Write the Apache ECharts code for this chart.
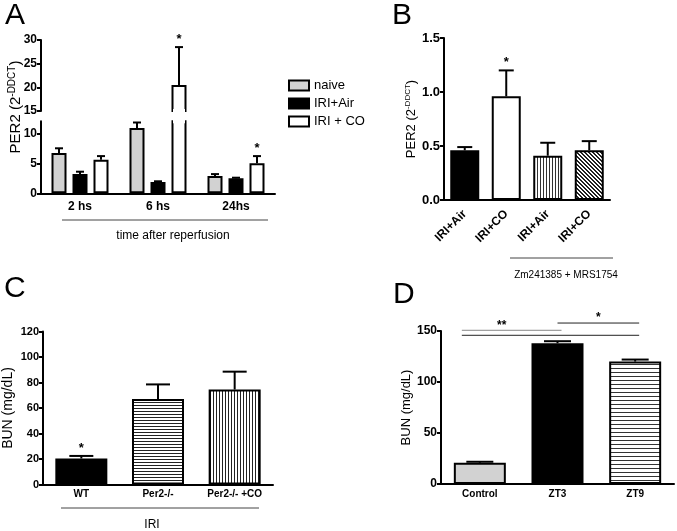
<!DOCTYPE html>
<html>
<head>
<meta charset="utf-8">
<script src="https://cdn.jsdelivr.net/npm/echarts@6/dist/echarts.min.js"></script>
<style>
  html, body { margin: 0; padding: 0; background: #fff; }
  #main { width: 677px; height: 531px; }
</style>
</head>
<body>
<div id="main"></div>
<script>
// ---- data ----
// A: PER2 expression after reperfusion
const aGroups = ['2 hs', '6 hs', '24hs'];
const aNaive = [6.7, 10.9, 2.9];
const aNaiveErr = [7.5, 11.8, 3.2];
const aAir = [3.2, 1.9, 2.5];
const aAirErr = [3.6, 2.0, 2.6];
const aCO = [5.6, 20.5, 5.0];
const aCOErr = [6.2, 28.5, 6.2];
const aCOStars = ['', '*', '*'];

// B: PER2 with/without Zm241385 + MRS1754
const bLabels = ['IRI+Air', 'IRI+CO', 'IRI+Air', 'IRI+CO'];
const bMeans = [0.46, 0.96, 0.41, 0.46];
const bErrTop = [0.49, 1.20, 0.53, 0.545];
const bStars = ['', '*', '', ''];

// C: BUN after IRI
const cLabels = ['WT', 'Per2-/-', 'Per2-/- +CO'];
const cMeans = [20.4, 67, 74.5];
const cErrTop = [22.4, 78.5, 88.5];
const cStars = ['*', '', ''];

// D: BUN by time of day
const dLabels = ['Control', 'ZT3', 'ZT9'];
const dMeans = [20.8, 138, 120];
const dErrTop = [21.8, 140, 122];
// [from, to, y, label]
const dBrackets = [[0, 1, 150.7, '**'], [0, 2, 145.8, ''], [1, 2, 157.8, '*']];

const FONT = "'Liberation Sans', Arial, sans-serif";
const GREY = '#d2d2d2';

function pattern(kind, size, fg) {
  const c = document.createElement('canvas');
  c.width = size; c.height = size;
  const g = c.getContext('2d');
  g.fillStyle = '#fff'; g.fillRect(0, 0, size, size);
  g.fillStyle = fg;
  if (kind === 'h') g.fillRect(0, 0, size, 1);
  else if (kind === 'v') g.fillRect(0, 0, 1, size);
  else {
    for (let i = 0; i < size; i++) {
      g.fillRect(i, i, 1, 1);
      g.fillRect((i + 1) % size, i, 1, 1);
    }
  }
  return { image: c, repeat: 'repeat' };
}

const barBorder = { borderColor: '#000', borderWidth: 2 };

// error bars (+ stars) as custom series; rows: [cat, top, hi, slot]
// lo/up: value range of the grid; openW > 0 hides the clipped edge of a broken bar
function errSeries(gi, rows, stars, slotOffset, capW, lo, up, openW) {
  return {
    type: 'custom',
    xAxisIndex: gi, yAxisIndex: gi,
    z: 5,
    data: rows,
    encode: { x: 0, y: 2 },
    renderItem: function (params, api) {
      const c = api.value(0), top = api.value(1), hi = api.value(2);
      if (top < lo) return null;
      const b = api.coord([c, top]);
      const x = b[0] + slotOffset(api.value(3));
      const kids = [];
      if (openW) {
        if (top > up) {
          const e = api.coord([c, up]);
          kids.push({ type: 'rect', shape: { x: x - openW / 2, y: e[1] - 2, width: openW, height: 4 }, style: { fill: '#fff' } });
        }
        if (isFinite(lo)) {
          const e2 = api.coord([c, lo]);
          kids.push({ type: 'rect', shape: { x: x - openW / 2, y: e2[1] - 2, width: openW, height: 4 }, style: { fill: '#fff' } });
        }
      }
      if (top <= up) {
        const t = api.coord([c, hi]);
        kids.push(
          { type: 'line', shape: { x1: x, y1: b[1], x2: x, y2: t[1] }, style: { stroke: '#000', lineWidth: 2 } },
          { type: 'line', shape: { x1: x - capW / 2, y1: t[1], x2: x + capW / 2, y2: t[1] }, style: { stroke: '#000', lineWidth: 2 } }
        );
        const s = stars[params.dataIndex];
        if (s) {
          kids.push({ type: 'text', x: x, y: t[1] - 1,
            style: { text: s, font: 'bold 13px ' + FONT, fill: '#000', align: 'center', verticalAlign: 'bottom' } });
        }
      }
      return { type: 'group', children: kids };
    }
  };
}

const aRows = [], aStars = [];
[[aNaive, aNaiveErr], [aAir, aAirErr], [aCO, aCOErr]].forEach(function (pair, s) {
  pair[0].forEach(function (v, c) {
    aRows.push([c, v, pair[1][c], s]);
    aStars.push(s === 2 ? aCOStars[c] : '');
  });
});
const aSlot = function (s) { return (s - 1) * 21; };
const noSlot = function () { return 0; };

function simpleRows(means, tops) {
  return means.map(function (v, i) { return [i, v, tops[i], 0]; });
}

const axisLine = { lineStyle: { color: '#000', width: 2 } };
const yTick = { length: 4, lineStyle: { color: '#000', width: 2 } };
const xTick = { alignWithLabel: true, length: 4, lineStyle: { color: '#000', width: 2 } };
function lab(size, extra) {
  return Object.assign({ color: '#000', fontWeight: 'bold', fontSize: size, fontFamily: FONT }, extra || {});
}

const chart = echarts.init(document.getElementById('main'));

const aBarSeries = [];
[0, 1].forEach(function (gi) {
  aBarSeries.push(
    { name: 'naive', type: 'bar', xAxisIndex: gi, yAxisIndex: gi, data: aNaive, barWidth: 15, barGap: '40%',
      itemStyle: Object.assign({ color: GREY }, barBorder) },
    { name: 'IRI+Air', type: 'bar', xAxisIndex: gi, yAxisIndex: gi, data: aAir, barWidth: 15, barGap: '40%',
      itemStyle: Object.assign({ color: '#000' }, barBorder) },
    { name: 'IRI + CO', type: 'bar', xAxisIndex: gi, yAxisIndex: gi, data: aCO, barWidth: 15, barGap: '40%',
      itemStyle: Object.assign({ color: '#fff' }, barBorder) }
  );
});

const bFills = ['#000', '#fff', pattern('v', 3, '#333'), pattern('d', 4, '#222')];
const cFills = ['#000', pattern('h', 3, '#222'), pattern('v', 3, '#222')];
const dFills = [GREY, '#000', pattern('h', 4, '#333')];

function styled(values, fills) {
  return values.map(function (v, i) {
    return { value: v, itemStyle: Object.assign({ color: fills[i] }, barBorder) };
  });
}

const rich = function (big, small) {
  return { t: { fontSize: big, fontFamily: FONT, color: '#000', lineHeight: big + 2 },
           s: { fontSize: small, fontFamily: FONT, color: '#000', verticalAlign: 'top', lineHeight: big + 2 } };
};

chart.setOption({
  animation: false,
  textStyle: { fontFamily: FONT },
  legend: {
    data: ['naive', 'IRI+Air', 'IRI + CO'],
    orient: 'vertical', left: 288, top: 79, padding: 0,
    icon: 'rect', itemWidth: 20, itemHeight: 10, itemGap: 5,
    selectedMode: false,
    textStyle: { fontSize: 13, color: '#000', fontFamily: FONT }
  },
  grid: [
    { left: 41, top: 121.3, width: 234, height: 72 },
    { left: 41, top: 40, width: 234, height: 71 },
    { left: 444, top: 38, width: 166, height: 162 },
    { left: 41, top: 331.5, width: 232, height: 153 },
    { left: 441, top: 331, width: 233, height: 153 }
  ],
  xAxis: [
    { gridIndex: 0, type: 'category', data: aGroups, axisLine: axisLine, axisTick: xTick, axisLabel: lab(12, { margin: 7 }) },
    { gridIndex: 1, type: 'category', data: aGroups, show: false },
    { gridIndex: 2, type: 'category', data: bLabels, axisLine: axisLine, axisTick: xTick, axisLabel: lab(12, { rotate: 45, margin: 12, interval: 0 }) },
    { gridIndex: 3, type: 'category', data: cLabels, axisLine: axisLine, axisTick: xTick, axisLabel: lab(10, { margin: 5, interval: 0 }) },
    { gridIndex: 4, type: 'category', data: dLabels, axisLine: axisLine, axisTick: xTick, axisLabel: lab(10, { margin: 5, interval: 0 }) }
  ],
  yAxis: [
    { gridIndex: 0, type: 'value', min: 0, max: 12, splitLine: { show: false }, axisLine: Object.assign({ show: true }, axisLine),
      axisTick: Object.assign({ show: true, customValues: [0, 5, 10] }, yTick), axisLabel: lab(12, { margin: 4, customValues: [0, 5, 10] }) },
    { gridIndex: 1, type: 'value', min: 15, max: 30, interval: 5, splitLine: { show: false }, axisLine: Object.assign({ show: true }, axisLine),
      axisTick: Object.assign({ show: true }, yTick), axisLabel: lab(12, { margin: 4 }) },
    { gridIndex: 2, type: 'value', min: 0, max: 1.5, interval: 0.5, splitLine: { show: false }, axisLine: Object.assign({ show: true }, axisLine),
      axisTick: Object.assign({ show: true }, yTick), axisLabel: lab(13, { margin: 4, formatter: function (v) { return v.toFixed(1); } }),
      name: '{t|PER2 (2}{s|-DDCT}{t|)}', nameLocation: 'middle', nameGap: 24, nameTextStyle: { rich: rich(13, 8) } },
    { gridIndex: 3, type: 'value', min: 0, max: 120, interval: 20, splitLine: { show: false }, axisLine: Object.assign({ show: true }, axisLine),
      axisTick: Object.assign({ show: true }, yTick), axisLabel: lab(11, { margin: 4 }),
      name: 'BUN (mg/dL)', nameLocation: 'middle', nameGap: 28, nameTextStyle: { fontSize: 14, color: '#000', fontFamily: FONT } },
    { gridIndex: 4, type: 'value', min: 0, max: 150, interval: 50, splitLine: { show: false }, axisLine: Object.assign({ show: true }, axisLine),
      axisTick: Object.assign({ show: true }, yTick), axisLabel: lab(12, { margin: 4 }),
      name: 'BUN (mg/dL)', nameLocation: 'middle', nameGap: 23, nameTextStyle: { fontSize: 13, color: '#000', fontFamily: FONT } }
  ],
  series: aBarSeries.concat([
    errSeries(0, aRows, aStars, aSlot, 8, -Infinity, 12, 12),
    errSeries(1, aRows, aStars, aSlot, 8, 15, Infinity, 12),
    { name: 'B', type: 'bar', xAxisIndex: 2, yAxisIndex: 2, barWidth: 29, data: styled(bMeans, bFills) },
    errSeries(2, simpleRows(bMeans, bErrTop), bStars, noSlot, 15, -Infinity, Infinity, 0),
    { name: 'C', type: 'bar', xAxisIndex: 3, yAxisIndex: 3, barWidth: 52, data: styled(cMeans, cFills) },
    errSeries(3, simpleRows(cMeans, cErrTop), cStars, noSlot, 24, -Infinity, Infinity, 0),
    { name: 'D', type: 'bar', xAxisIndex: 4, yAxisIndex: 4, barWidth: 52, data: styled(dMeans, dFills) },
    errSeries(4, simpleRows(dMeans, dErrTop), ['', '', ''], noSlot, 27, -Infinity, Infinity, 0),
    {
      type: 'custom', xAxisIndex: 4, yAxisIndex: 4, z: 6,
      data: dBrackets.map(function (b) { return [b[0], b[1], b[2]]; }),
      encode: { x: 0, y: 2 },
      renderItem: function (params, api) {
        const p0 = api.coord([api.value(0), api.value(2)]);
        const p1 = api.coord([api.value(1), api.value(2)]);
        const x0 = p0[0] - (api.value(0) === 0 ? 18 : 0);
        const x1 = p1[0] + 4;
        const kids = [{ type: 'line', shape: { x1: x0, y1: p0[1], x2: x1, y2: p0[1] },
          style: { stroke: params.dataIndex === 0 ? '#888' : '#222', lineWidth: 1 } }];
        const txt = dBrackets[params.dataIndex][3];
        if (txt) {
          kids.push({ type: 'text', x: (x0 + x1) / 2 - (txt.length - 1) * 10, y: p0[1] + 1,
            style: { text: txt, font: 'bold 12px ' + FONT, fill: '#000', align: 'center', verticalAlign: 'bottom' } });
        }
        return { type: 'group', children: kids };
      }
    }
  ]),
  graphic: [
    { type: 'text', left: 5, top: 1, style: { text: 'A', font: '30px ' + FONT, fill: '#000' } },
    { type: 'text', left: 392, top: 1, style: { text: 'B', font: '30px ' + FONT, fill: '#000' } },
    { type: 'text', left: 4, top: 274, style: { text: 'C', font: '30px ' + FONT, fill: '#000' } },
    { type: 'text', left: 393, top: 280, style: { text: 'D', font: '30px ' + FONT, fill: '#000' } },
    { type: 'text', x: 16, y: 107, rotation: Math.PI / 2,
      style: { text: '{t|PER2 (2}{s|-DDCT}{t|)}', rich: rich(15, 10), align: 'center', verticalAlign: 'middle' } },
    { type: 'line', shape: { x1: 62, y1: 220, x2: 268, y2: 220 }, style: { stroke: '#444', lineWidth: 1 } },
    { type: 'text', x: 173, y: 236, style: { text: 'time after reperfusion', font: '12px ' + FONT, fill: '#000', align: 'center', verticalAlign: 'middle' } },
    { type: 'line', shape: { x1: 510, y1: 258, x2: 613, y2: 258 }, style: { stroke: '#444', lineWidth: 1 } },
    { type: 'text', x: 566, y: 275, style: { text: 'Zm241385 + MRS1754', font: '10px ' + FONT, fill: '#000', align: 'center', verticalAlign: 'middle' } },
    { type: 'line', shape: { x1: 61, y1: 508, x2: 259, y2: 508 }, style: { stroke: '#444', lineWidth: 1 } },
    { type: 'text', x: 152, y: 525, style: { text: 'IRI', font: '12px ' + FONT, fill: '#000', align: 'center', verticalAlign: 'middle' } }
  ]
});
</script>
</body>
</html>
